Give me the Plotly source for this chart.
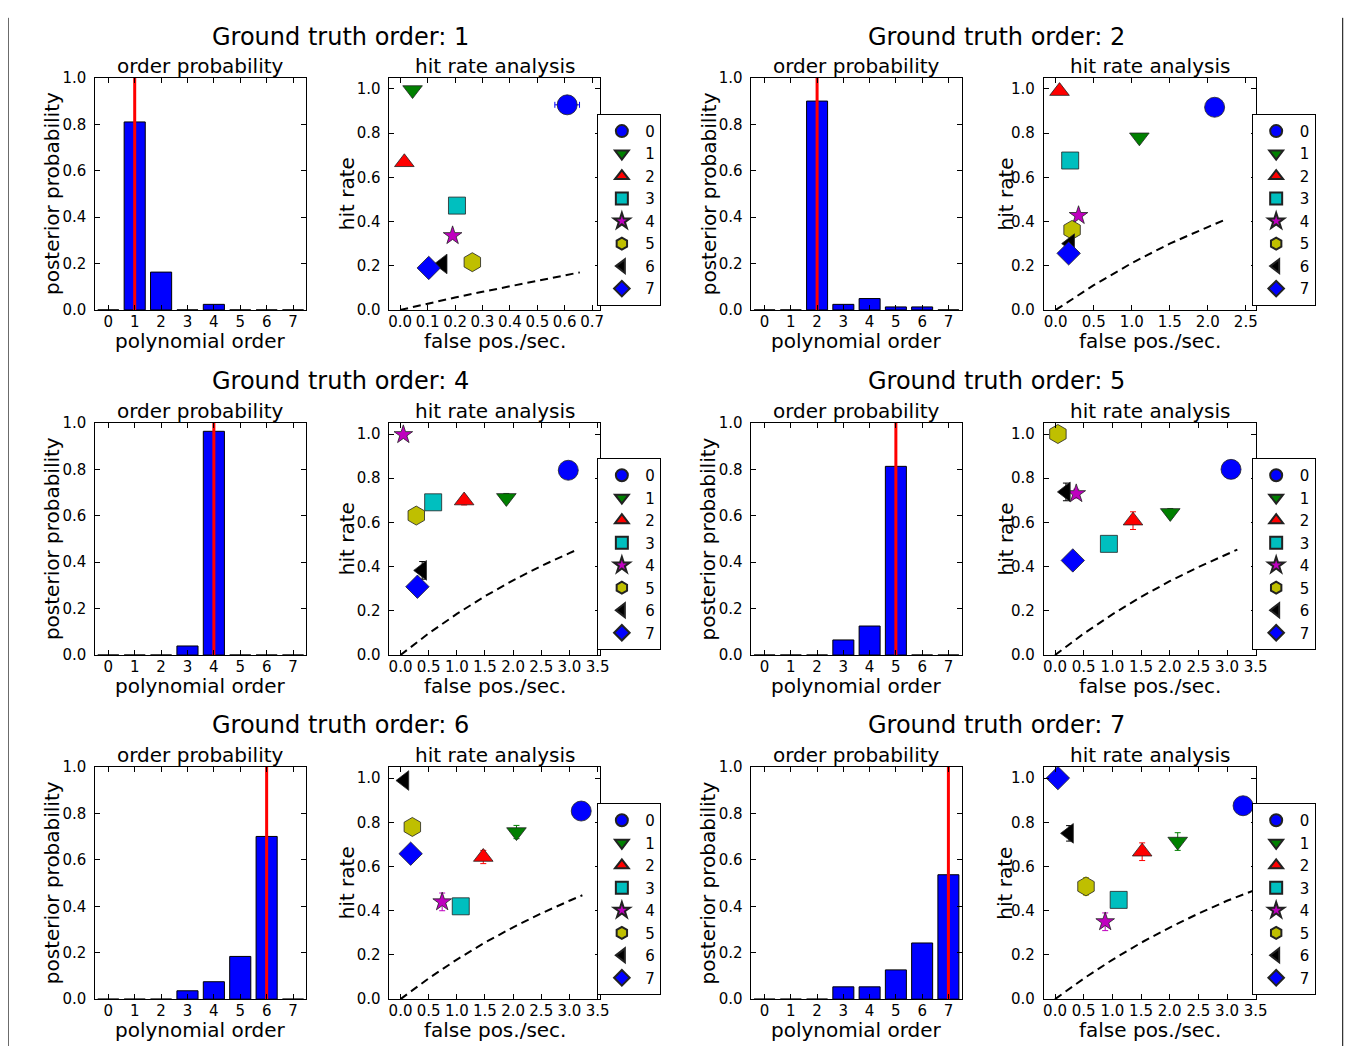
import plotly.graph_objects as go

# ---------------- data ----------------
orders = [0, 1, 2, 3, 4, 5, 6, 7]
order_labels = ["0", "1", "2", "3", "4", "5", "6", "7"]
truth_orders = [1, 2, 4, 5, 6, 7]

probs_gt1 = [0.0, 0.81, 0.163, 0.0, 0.024, 0.0, 0.0, 0.0]
probs_gt2 = [0.0, 0.0, 0.90, 0.024, 0.049, 0.013, 0.013, 0.0]
probs_gt4 = [0.0, 0.0, 0.0, 0.039, 0.964, 0.0, 0.0, 0.0]
probs_gt5 = [0.0, 0.0, 0.0, 0.065, 0.125, 0.813, 0.0, 0.0]
probs_gt6 = [0.0, 0.0, 0.0, 0.036, 0.075, 0.184, 0.701, 0.0]
probs_gt7 = [0.0, 0.0, 0.0, 0.053, 0.053, 0.126, 0.242, 0.536]

fp_gt1 = [0.609, 0.045, 0.015, 0.207, 0.191, 0.263, 0.155, 0.104]
hit_gt1 = [0.928, 0.995, 0.668, 0.472, 0.336, 0.216, 0.208, 0.190]
fperr_gt1 = [0.045, 0, 0, 0, 0, 0, 0, 0]
hiterr_gt1 = [0, 0, 0, 0, 0, 0, 0, 0]

fp_gt2 = [2.09, 1.10, 0.05, 0.19, 0.30, 0.215, 0.19, 0.17]
hit_gt2 = [0.917, 0.781, 0.990, 0.676, 0.427, 0.362, 0.300, 0.256]
fperr_gt2 = [0, 0, 0, 0, 0, 0, 0, 0]
hiterr_gt2 = [0, 0, 0, 0, 0, 0, 0, 0]

fp_gt4 = [2.98, 1.88, 1.13, 0.58, 0.05, 0.28, 0.385, 0.30]
hit_gt4 = [0.836, 0.711, 0.699, 0.691, 0.997, 0.631, 0.383, 0.309]
fperr_gt4 = [0, 0, 0, 0, 0, 0, 0, 0]
hiterr_gt4 = [0, 0.02, 0.02, 0, 0, 0, 0.04, 0]

fp_gt5 = [3.07, 2.01, 1.36, 0.94, 0.37, 0.05, 0.19, 0.31]
hit_gt5 = [0.840, 0.643, 0.608, 0.503, 0.730, 1.0, 0.738, 0.428]
fperr_gt5 = [0, 0, 0, 0, 0, 0, 0, 0]
hiterr_gt5 = [0, 0.02, 0.04, 0, 0.02, 0, 0.04, 0]

fp_gt6 = [3.21, 2.06, 1.47, 1.07, 0.74, 0.21, 0.07, 0.18]
hit_gt6 = [0.851, 0.756, 0.643, 0.420, 0.440, 0.779, 0.989, 0.658]
fperr_gt6 = [0, 0, 0, 0, 0, 0, 0, 0]
hiterr_gt6 = [0, 0.03, 0.03, 0, 0.04, 0, 0, 0]

fp_gt7 = [3.28, 2.14, 1.52, 1.11, 0.875, 0.54, 0.245, 0.05]
hit_gt7 = [0.875, 0.713, 0.667, 0.449, 0.350, 0.510, 0.750, 1.0]
fperr_gt7 = [0, 0, 0, 0, 0, 0, 0, 0]
hiterr_gt7 = [0, 0.04, 0.04, 0, 0.04, 0.04, 0.035, 0]

# chance-level (dashed) curves
chance_x_gt1 = [0.0, 0.1, 0.2, 0.3, 0.4, 0.5, 0.6, 0.655]
chance_y_gt1 = [0.0, 0.029, 0.056, 0.082, 0.107, 0.132, 0.156, 0.170]
chance_x_gt2 = [0.0, 0.5, 1.0, 1.5, 2.0, 2.22]
chance_y_gt2 = [0.0, 0.112, 0.212, 0.300, 0.375, 0.407]
chance_x_gt4 = [0.0, 0.5, 1.0, 1.5, 2.0, 2.5, 3.0, 3.14]
chance_y_gt4 = [0.0, 0.098, 0.186, 0.266, 0.338, 0.403, 0.461, 0.477]
chance_x_gt5 = [0.0, 0.5, 1.0, 1.5, 2.0, 2.5, 3.0, 3.18]
chance_y_gt5 = [0.0, 0.097, 0.184, 0.263, 0.334, 0.398, 0.456, 0.477]
chance_x_gt6 = [0.0, 0.5, 1.0, 1.5, 2.0, 2.5, 3.0, 3.23]
chance_y_gt6 = [0.0, 0.094, 0.179, 0.256, 0.325, 0.388, 0.445, 0.470]
chance_x_gt7 = [0.0, 0.5, 1.0, 1.5, 2.0, 2.5, 3.0, 3.5]
chance_y_gt7 = [0.0, 0.093, 0.178, 0.255, 0.324, 0.387, 0.445, 0.495]

fp_ranges = [[-0.04, 0.73], [-0.16, 2.63], [-0.2, 3.55], [-0.2, 3.5], [-0.2, 3.55], [-0.2, 3.5]]
fp_dticks = [0.1, 0.5, 0.5, 0.5, 0.5, 0.5]

probs_all = [probs_gt1, probs_gt2, probs_gt4, probs_gt5, probs_gt6, probs_gt7]
fp_all = [fp_gt1, fp_gt2, fp_gt4, fp_gt5, fp_gt6, fp_gt7]
hit_all = [hit_gt1, hit_gt2, hit_gt4, hit_gt5, hit_gt6, hit_gt7]
fperr_all = [fperr_gt1, fperr_gt2, fperr_gt4, fperr_gt5, fperr_gt6, fperr_gt7]
hiterr_all = [hiterr_gt1, hiterr_gt2, hiterr_gt4, hiterr_gt5, hiterr_gt6, hiterr_gt7]
chx_all = [chance_x_gt1, chance_x_gt2, chance_x_gt4, chance_x_gt5, chance_x_gt6, chance_x_gt7]
chy_all = [chance_y_gt1, chance_y_gt2, chance_y_gt4, chance_y_gt5, chance_y_gt6, chance_y_gt7]

# ---------------- layout geometry ----------------
# positions below are target pixels in the final picture; they are converted to
# page pixels with the capture mapping measured in earlier runs.
MARGIN = 8          # default body margin of the page
AX, SX = 1.0, 0.990
AY, SY = 8.3, 0.9826
W, H = 1364, 1052
FONT = "DejaVu Sans"
NBSP = "\u00a0"
symbols = ["circle", "triangle-down", "triangle-up", "square", "star", "hexagon", "triangle-left", "diamond"]
colors = ["#0000ff", "#008000", "#ff0000", "#00bfbf", "#bf00bf", "#bfbf00", "#000000", "#0000ff"]
sizes = [20, 17, 17, 17, 14, 19, 17, 18]

col_bar_x = [(95, 306), (751, 961)]
col_sc_x = [(389, 600), (1043, 1255)]
row_y = [(77, 309), (422, 654), (766, 998)]
legend_x = [597, 1251]
legend_top = [113, 457, 802]
title_cx = [340, 996]
title_cy = [36, 380, 724]
ylab_bar_cx = [52, 708]
ylab_sc_cx = [347, 1005]


def fx(px):
    return ((px - AX) / SX - MARGIN) / W


def fy(py):
    return 1 - ((py - AY) / SY - MARGIN) / H


fig = go.Figure()
layout = dict(
    width=W, height=H,
    margin=dict(l=0, r=0, t=0, b=0),
    paper_bgcolor="white", plot_bgcolor="white",
    font=dict(family=FONT, size=15, color="black"),
    showlegend=True,
    annotations=[], shapes=[],
)

axis_common = dict(showline=True, linecolor="black", linewidth=1, mirror="allticks",
                   ticks="inside", ticklen=5, tickcolor="black", showgrid=False,
                   zeroline=False, tickangle=0, tickfont=dict(family=FONT, size=15, color="black"))

for p in range(6):
    r, c = divmod(p, 2)
    ya, yb = row_y[r]
    bx = 2 * p + 1
    sx = 2 * p + 2
    xb = "x" if bx == 1 else f"x{bx}"
    yb_ = "y" if bx == 1 else f"y{bx}"
    xs = f"x{sx}"
    ys = f"y{sx}"
    leg = "legend" if p == 0 else f"legend{p + 1}"

    # bar panel axes
    layout["xaxis" if bx == 1 else f"xaxis{bx}"] = dict(
        axis_common, domain=[fx(col_bar_x[c][0]), fx(col_bar_x[c][1])], anchor=yb_,
        range=[-0.5, 7.5], tickmode="array", tickvals=orders, ticktext=order_labels,
        ticklabelstandoff=-2)
    layout["yaxis" if bx == 1 else f"yaxis{bx}"] = dict(
        axis_common, domain=[fy(yb), fy(ya)], anchor=xb,
        range=[0, 1], tickmode="linear", tick0=0, dtick=0.2, tickformat=".1f",
        ticksuffix=NBSP)
    # scatter panel axes
    layout[f"xaxis{sx}"] = dict(
        axis_common, domain=[fx(col_sc_x[c][0]), fx(col_sc_x[c][1])], anchor=ys,
        range=fp_ranges[p], tickmode="linear", tick0=0, dtick=fp_dticks[p], tickformat=".1f",
        ticklabelstandoff=-2)
    layout[f"yaxis{sx}"] = dict(
        axis_common, domain=[fy(yb), fy(ya)], anchor=xs,
        range=[0, 1.05], tickmode="linear", tick0=0, dtick=0.2, tickformat=".1f",
        ticksuffix=NBSP)

    # bars
    fig.add_trace(go.Bar(x=orders, y=probs_all[p], width=0.8, xaxis=xb, yaxis=yb_,
                         marker=dict(color="#0000ff", line=dict(color="black", width=1)),
                         showlegend=False))
    # truth line
    t = truth_orders[p]
    fig.add_trace(go.Scatter(x=[t, t], y=[0, 1], mode="lines", xaxis=xb, yaxis=yb_,
                             line=dict(color="#ff0000", width=3), showlegend=False))

    # chance curve
    fig.add_trace(go.Scatter(x=chx_all[p], y=chy_all[p], mode="lines", xaxis=xs, yaxis=ys,
                             line=dict(color="black", width=2, dash="8px,5px"), showlegend=False))
    # markers
    for k in range(8):
        xv = fp_all[p][k]
        yv = hit_all[p][k]
        ex = fperr_all[p][k]
        ey = hiterr_all[p][k]
        if ex > 0 or ey > 0:
            fig.add_trace(go.Scatter(
                x=[xv], y=[yv], mode="markers", xaxis=xs, yaxis=ys, showlegend=False,
                marker=dict(size=1, opacity=0),
                error_x=dict(type="data", array=[ex], visible=ex > 0, color=colors[k], thickness=1, width=3),
                error_y=dict(type="data", array=[ey], visible=ey > 0, color=colors[k], thickness=1, width=3)))
        fig.add_trace(go.Scatter(
            x=[xv], y=[yv], mode="markers", xaxis=xs, yaxis=ys, name=order_labels[k],
            legend=leg, showlegend=True, cliponaxis=False,
            marker=dict(symbol=symbols[k], size=sizes[k], color=colors[k],
                        line=dict(color="#222222", width=0.8))))

    layout[leg] = dict(
        x=fx(legend_x[c]), y=fy(legend_top[r]), xanchor="left", yanchor="top",
        bordercolor="black", borderwidth=1, bgcolor="white",
        font=dict(family=FONT, size=15, color="black"),
        itemsizing="constant", itemwidth=37, tracegroupgap=0, traceorder="normal")

    # text annotations
    ann = layout["annotations"]
    ann.append(dict(text=f"Ground truth order: {t}", x=fx(title_cx[c]), y=fy(title_cy[r]),
                    xref="paper", yref="paper", showarrow=False, xanchor="center", yanchor="middle",
                    font=dict(family=FONT, size=24, color="black")))
    ann.append(dict(text="order probability", x=fx(sum(col_bar_x[c]) / 2), y=fy(ya - 12),
                    xref="paper", yref="paper", showarrow=False, xanchor="center", yanchor="middle",
                    font=dict(family=FONT, size=20, color="black")))
    ann.append(dict(text="hit rate analysis", x=fx(sum(col_sc_x[c]) / 2), y=fy(ya - 12),
                    xref="paper", yref="paper", showarrow=False, xanchor="center", yanchor="middle",
                    font=dict(family=FONT, size=20, color="black")))
    ann.append(dict(text="polynomial order", x=fx(sum(col_bar_x[c]) / 2), y=fy(yb + 31),
                    xref="paper", yref="paper", showarrow=False, xanchor="center", yanchor="middle",
                    font=dict(family=FONT, size=20, color="black")))
    ann.append(dict(text="false pos./sec.", x=fx(sum(col_sc_x[c]) / 2), y=fy(yb + 31),
                    xref="paper", yref="paper", showarrow=False, xanchor="center", yanchor="middle",
                    font=dict(family=FONT, size=20, color="black")))
    ann.append(dict(text="posterior probability", x=fx(ylab_bar_cx[c]), y=fy((ya + yb) / 2),
                    xref="paper", yref="paper", showarrow=False, xanchor="center", yanchor="middle",
                    textangle=-90, font=dict(family=FONT, size=20, color="black")))
    ann.append(dict(text="hit rate", x=fx(ylab_sc_cx[c]), y=fy((ya + yb) / 2),
                    xref="paper", yref="paper", showarrow=False, xanchor="center", yanchor="middle",
                    textangle=-90, font=dict(family=FONT, size=20, color="black")))

# outer frame (left and right edges of the page border)
layout["shapes"].append(dict(type="line", xref="paper", yref="paper",
                             x0=fx(8), x1=fx(8), y0=fy(1046), y1=fy(17),
                             line=dict(color="black", width=1)))
layout["shapes"].append(dict(type="line", xref="paper", yref="paper",
                             x0=fx(1342), x1=fx(1342), y0=fy(1046), y1=fy(17),
                             line=dict(color="black", width=1)))

fig.update_layout(**layout)
fig.write_html("out.html", config={"displayModeBar": False})
